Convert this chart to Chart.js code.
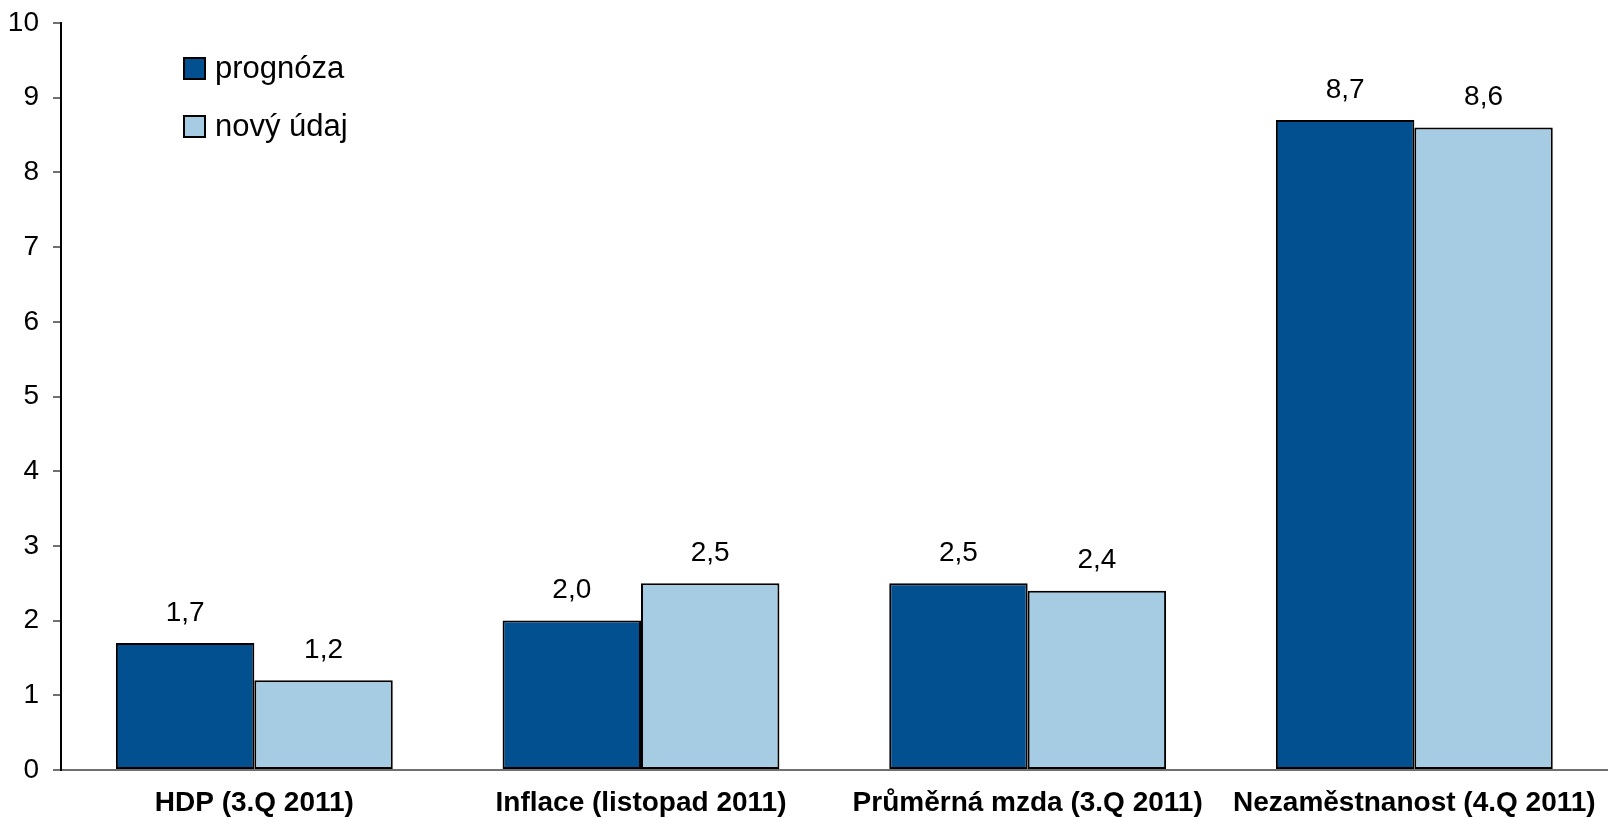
<!DOCTYPE html>
<html>
<head>
<meta charset="utf-8">
<script src="https://cdn.jsdelivr.net/npm/chart.js@4.4.1/dist/chart.umd.min.js"></script>
<style>
  html, body { margin: 0; padding: 0; background: #fff; }
  #wrap { width: 1612px; height: 817px; position: relative; }
</style>
</head>
<body>
<div id="wrap"><canvas id="chart"></canvas></div>
<script>
const categories = ['HDP (3.Q 2011)', 'Inflace (listopad 2011)', 'Průměrná mzda (3.Q 2011)', 'Nezaměstnanost (4.Q 2011)'];
const prognoza = [1.7, 2.0, 2.5, 8.7];
const novyUdaj = [1.2, 2.5, 2.4, 8.6];
const seriesNames = ['prognóza', 'nový údaj'];
const yTicks = [0, 1, 2, 3, 4, 5, 6, 7, 8, 9, 10];

const DARK = '#02508f';
const LIGHT = '#a6cce4';
const FONT = '"Liberation Sans", Arial, sans-serif';

// value labels above bars, czech decimal comma
const valueLabels = {
    id: 'valueLabels',
    afterDatasetsDraw(chart) {
        const ctx = chart.ctx;
        ctx.save();
        ctx.font = '28px ' + FONT;
        ctx.fillStyle = '#000';
        ctx.textAlign = 'center';
        ctx.textBaseline = 'middle';
        chart.data.datasets.forEach((ds, i) => {
            chart.getDatasetMeta(i).data.forEach((bar, j) => {
                const txt = ds.data[j].toFixed(1).replace('.', ',');
                ctx.fillText(txt, bar.x, bar.y - 30);
            });
        });
        ctx.restore();
    }
};

// legend inside plot area, top left
const innerLegend = {
    id: 'innerLegend',
    afterDraw(chart) {
        const ctx = chart.ctx;
        const a = chart.chartArea;
        ctx.save();
        ctx.font = '31px ' + FONT;
        ctx.textBaseline = 'middle';
        ctx.textAlign = 'left';
        chart.data.datasets.forEach((ds, i) => {
            const x = a.left + 123;
            const y = a.top + 35 + i * 58;
            ctx.fillStyle = ds.backgroundColor;
            ctx.fillRect(x, y, 21, 21);
            ctx.lineWidth = 2;
            ctx.strokeStyle = '#000';
            ctx.strokeRect(x, y, 21, 21);
            ctx.fillStyle = '#000';
            ctx.fillText(ds.label, x + 31, y + 11);
        });
        ctx.restore();
    }
};

new Chart(document.getElementById('chart'), {
    type: 'bar',
    data: {
        labels: categories,
        datasets: [
            { label: seriesNames[0], data: prognoza, backgroundColor: DARK },
            { label: seriesNames[1], data: novyUdaj, backgroundColor: LIGHT }
        ]
    },
    options: {
        responsive: true,
        maintainAspectRatio: false,
        animation: false,
        devicePixelRatio: 1,
        layout: { padding: { top: 23, right: 3, left: 0, bottom: 0 } },
        datasets: {
            bar: {
                borderColor: '#000',
                borderWidth: 2,
                borderSkipped: false,
                categoryPercentage: 0.716,
                barPercentage: 1.0
            }
        },
        plugins: {
            legend: { display: false },
            tooltip: { enabled: false }
        },
        scales: {
            x: {
                grid: { display: false, drawTicks: false },
                border: { display: true, color: '#707070', width: 2 },
                ticks: {
                    color: '#000',
                    padding: 16,
                    maxRotation: 0,
                    autoSkip: false,
                    font: { family: FONT, size: 28, weight: 'bold' }
                },
                afterFit(scale) { scale.height = 47; }
            },
            y: {
                min: 0,
                max: 10,
                afterBuildTicks(scale) { scale.ticks = yTicks.map(v => ({ value: v })); },
                grid: { drawOnChartArea: false, drawTicks: true, tickLength: 8, color: '#707070', lineWidth: 2 },
                border: { display: true, color: '#000', width: 2 },
                ticks: {
                    color: '#000',
                    padding: 14,
                    font: { family: FONT, size: 28 }
                },
                afterFit(scale) {
                    scale.width = 61;
                    scale.paddingTop = 0;
                    scale.paddingBottom = 0;
                }
            }
        }
    },
    plugins: [valueLabels, innerLegend]
});
</script>
</body>
</html>
